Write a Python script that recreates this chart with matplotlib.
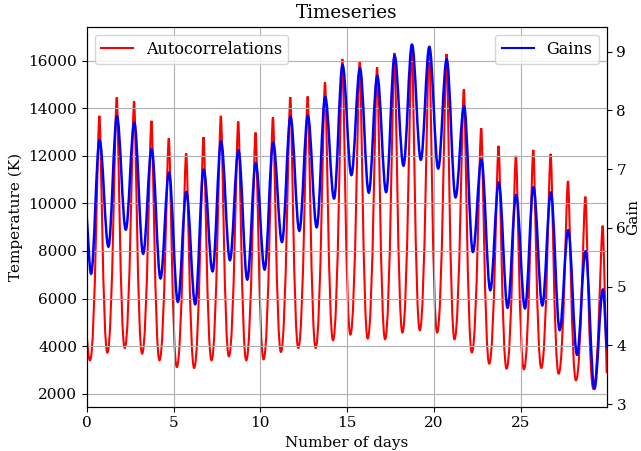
import matplotlib
matplotlib.use('Agg')
import matplotlib.pyplot as plt
from matplotlib.path import Path
from matplotlib.patches import PathPatch
from matplotlib.lines import Line2D

# values (extrema of each daily cycle)
red_start = (0.0, 4400)
red_end = (29.96, 2860)
red_trough_days = [0.19, 1.19, 2.19, 3.19, 4.19, 5.19, 6.19, 7.19, 8.19, 9.19,
                   10.19, 11.19, 12.19, 13.19, 14.19, 15.19, 16.19, 17.19, 18.19, 19.19,
                   20.19, 21.19, 22.19, 23.19, 24.19, 25.19, 26.19, 27.19, 28.19, 29.19]
red_trough_vals = [3402, 3725, 3921, 3683, 3402, 3121, 3079, 3402, 3570, 3402,
                   3444, 3753, 3921, 3921, 4244, 4483, 4315, 4287, 4567, 4666,
                   4567, 4287, 3730, 3261, 3050, 3022, 3079, 2840, 2559, 2208]
red_peak_days = [0.73, 1.73, 2.73, 3.73, 4.73, 5.73, 6.73, 7.73, 8.73, 9.73,
                 10.73, 11.73, 12.73, 13.73, 14.73, 15.73, 16.73, 17.73, 18.73, 19.73,
                 20.73, 21.73, 22.73, 23.73, 24.73, 25.73, 26.73, 27.73, 28.73, 29.73]
red_peak_vals = [13683, 14455, 14287, 13472, 12742, 12110, 12784, 13683, 13444, 12980,
                 13626, 14469, 14497, 15101, 16070, 15972, 15719, 16323, 16674, 16604,
                 16281, 14806, 13163, 12419, 11997, 12250, 12081, 10944, 10284, 9062]

blue_start = (0.0, 6.19)
blue_end = (29.96, 3.95)
blue_trough_days = [0.25, 1.25, 2.25, 3.25, 4.25, 5.25, 6.25, 7.25, 8.25, 9.25,
                    10.25, 11.25, 12.25, 13.25, 14.25, 15.25, 16.25, 17.25, 18.25, 19.25,
                    20.25, 21.25, 22.25, 23.25, 24.25, 25.25, 26.25, 27.25, 28.25, 29.25]
blue_trough_vals = [5.22, 5.68, 5.97, 5.56, 5.14, 4.74, 4.70, 5.26, 5.45, 5.12,
                    5.29, 5.76, 5.95, 6.01, 6.50, 6.90, 6.60, 6.61, 7.06, 7.16,
                    7.01, 6.52, 5.59, 4.94, 4.64, 4.63, 4.68, 4.26, 3.84, 3.26]
blue_peak_days = [0.74, 1.74, 2.74, 3.74, 4.74, 5.74, 6.74, 7.74, 8.74, 9.74,
                  10.74, 11.74, 12.74, 13.74, 14.74, 15.74, 16.74, 17.74, 18.74, 19.74,
                  20.74, 21.74, 22.74, 23.74, 24.74, 25.74, 26.74, 27.74, 28.74, 29.74]
blue_peak_vals = [7.49, 7.90, 7.79, 7.34, 6.94, 6.61, 6.99, 7.47, 7.32, 7.10,
                  7.45, 7.89, 7.91, 8.23, 8.77, 8.72, 8.59, 8.93, 9.12, 9.08,
                  8.87, 8.07, 7.16, 6.77, 6.56, 6.69, 6.60, 5.96, 5.60, 4.95]


def wave(start, end, tr_days, tr_vals, pk_days, pk_vals, h_tr, h_pk):
    # smooth curve through the extrema, drawn as bezier segments
    nodes = [(start[0], start[1], 'e')]
    ext = [(d, v, 't') for d, v in zip(tr_days, tr_vals)] + \
          [(d, v, 'p') for d, v in zip(pk_days, pk_vals)]
    nodes += sorted(ext)
    nodes.append((end[0], end[1], 'e'))
    verts = [(nodes[0][0], nodes[0][1])]
    codes = [Path.MOVETO]
    for (t0, v0, k0), (t1, v1, k1) in zip(nodes[:-1], nodes[1:]):
        dt = t1 - t0
        if k0 == 'e':
            c1 = (t0 + dt / 3, v0 + (v1 - v0) / 3)
        else:
            c1 = (t0 + (h_tr if k0 == 't' else h_pk) * dt, v0)
        if k1 == 'e':
            c2 = (t1 - dt / 3, v1 - (v1 - v0) / 3)
        else:
            c2 = (t1 - (h_tr if k1 == 't' else h_pk) * dt, v1)
        verts += [c1, c2, (t1, v1)]
        codes += [Path.CURVE4] * 3
    return Path(verts, codes)


plt.rcParams['font.family'] = 'DejaVu Serif'
plt.rcParams['font.size'] = 11

fig = plt.figure(figsize=(6.41, 4.51), dpi=100)
ax1 = fig.add_axes([0.1353, 0.0982, 0.8112, 0.8426])
ax2 = ax1.twinx()

p1 = wave(red_start, red_end, red_trough_days, red_trough_vals,
          red_peak_days, red_peak_vals, 0.55, 0.2)
ax1.add_patch(PathPatch(p1, facecolor='none', edgecolor='red', lw=1.5))
p2 = wave(blue_start, blue_end, blue_trough_days, blue_trough_vals,
          blue_peak_days, blue_peak_vals, 0.36, 0.36)
ax2.add_patch(PathPatch(p2, facecolor='none', edgecolor='blue', lw=1.8))

ax1.set_xlim(0, 29.96)
ax1.set_ylim(1450, 17430)
ax2.set_ylim(2.955, 9.425)
ax1.set_yticks([2000, 4000, 6000, 8000, 10000, 12000, 14000, 16000])
ax2.set_yticks([3, 4, 5, 6, 7, 8, 9])
ax1.grid(True)

ax1.set_title('Timeseries')
ax1.set_xlabel('Number of days')
ax1.set_ylabel('Temperature (K)')
ax2.set_ylabel('Gain', labelpad=0)

ax1.legend(handles=[Line2D([], [], color='red', lw=1.5, label='Autocorrelations')],
           loc='upper left', fontsize=11.5)
ax2.legend(handles=[Line2D([], [], color='blue', lw=1.5, label='Gains')],
           loc='upper right', fontsize=11.5)

plt.savefig('out.png', dpi=100)
